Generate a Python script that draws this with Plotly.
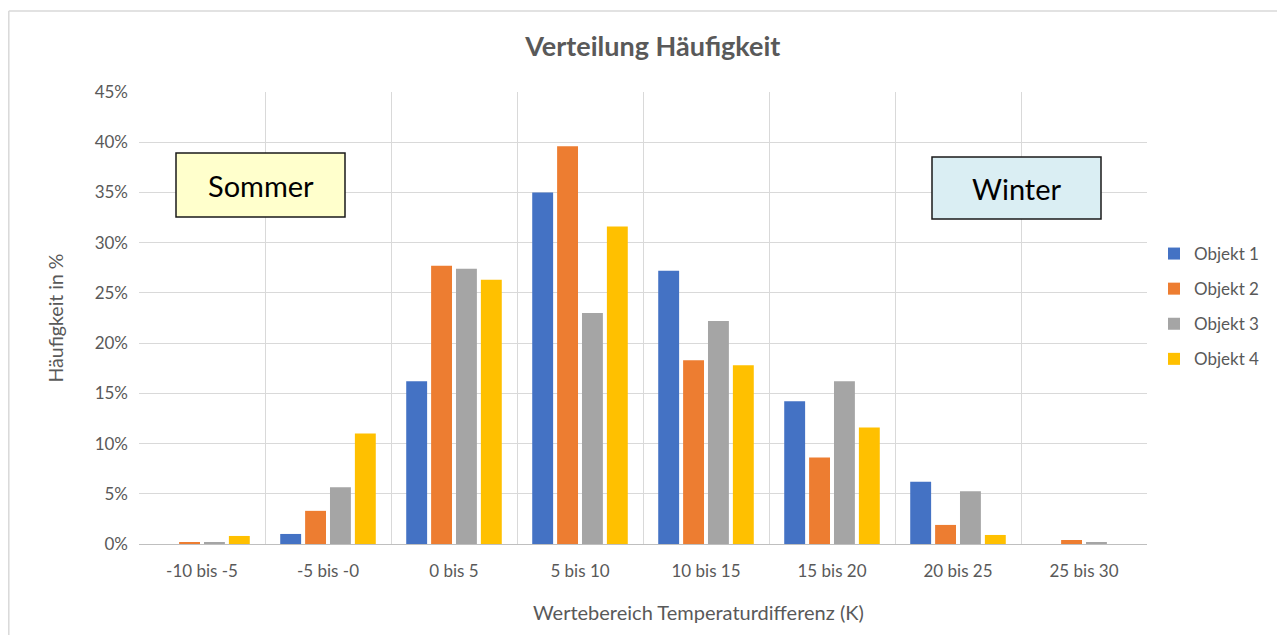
import plotly.graph_objects as go

categories = ["-10 bis -5", "-5 bis -0", "0 bis 5", "5 bis 10", "10 bis 15", "15 bis 20", "20 bis 25", "25 bis 30"]
objekt1 = [0.0, 1.0, 16.2, 35.0, 27.2, 14.2, 6.2, 0.0]
objekt2 = [0.2, 3.3, 27.7, 39.6, 18.3, 8.6, 1.9, 0.4]
objekt3 = [0.15, 5.65, 27.4, 23.0, 22.2, 16.2, 5.25, 0.2]
objekt4 = [0.8, 11.0, 26.3, 31.6, 17.8, 11.6, 0.9, 0.0]
series_names = ["Objekt 1", "Objekt 2", "Objekt 3", "Objekt 4"]
colors = ["#4472C4", "#ED7D31", "#A5A5A5", "#FFC000"]
y_ticks = [0, 5, 10, 15, 20, 25, 30, 35, 40, 45]

FONT = "Lato, Carlito, Calibri, sans-serif"
GRAY = "#595959"

fig = go.Figure()
for i, (name, vals) in enumerate(zip(series_names, [objekt1, objekt2, objekt3, objekt4])):
    fig.add_trace(go.Bar(
        x=categories, y=[v / 100 for v in vals], name=name,
        marker=dict(color=colors[i], line=dict(width=0)),
        legendgroup=name,
    ))

# page body has an 8px margin: figure coords = screen coords - 8
OFF = 8
W, H = 1285 - OFF, 635 - OFF
# plot area in screen coords
PX0, PX1, PY0, PY1 = 139, 1147, 92, 544
L, R, T, B = PX0 - OFF, W - (PX1 - OFF), PY0 - OFF, H - (PY1 - OFF)
pw, ph = PX1 - PX0, PY1 - PY0

def px_x(x):
    return (x - PX0) / pw

def px_y(y):
    return (PY1 - y) / ph

fig.update_layout(
    width=W, height=H,
    margin=dict(l=L, r=R, t=T, b=B),
    paper_bgcolor="white", plot_bgcolor="white",
    barmode="group", bargap=0.21, bargroupgap=0.16,
    font=dict(family=FONT, color=GRAY, size=17),
    title=dict(text="<b>Verteilung Häufigkeit</b>", x=px_x(648), xanchor="center",
               y=1 - (47 - OFF) / H, yanchor="middle",
               font=dict(family=FONT, size=27, color=GRAY)),
    xaxis=dict(
        type="category", tickson="boundaries", showgrid=True, gridcolor="#D9D9D9", gridwidth=1,
        showline=True, linecolor="#BFBFBF", linewidth=1, ticks="",
        tickfont=dict(size=17, color=GRAY), ticklabelstandoff=12,
    ),
    yaxis=dict(
        range=[0, 0.45], tickvals=[t / 100 for t in y_ticks], tickformat=".0%",
        showgrid=True, gridcolor="#D9D9D9", gridwidth=1, zeroline=False,
        showline=False, ticks="", ticklen=0,
        tickfont=dict(size=17, color=GRAY), ticklabelstandoff=10,
        title=dict(text="Häufigkeit in %", font=dict(size=19.5, color=GRAY), standoff=25),
    ),
    legend=dict(
        x=px_x(1154), xanchor="left", y=px_y(236), yanchor="top",
        font=dict(size=17, color=GRAY), tracegroupgap=10,
        bgcolor="rgba(0,0,0,0)", itemwidth=30,
    ),
    shapes=[
        dict(type="rect", xref="paper", yref="paper",
             x0=px_x(176), x1=px_x(345), y0=px_y(217), y1=px_y(153),
             fillcolor="#FFFFCC", line=dict(color="#1a1a1a", width=1.5), layer="above"),
        dict(type="rect", xref="paper", yref="paper",
             x0=px_x(932), x1=px_x(1101), y0=px_y(219), y1=px_y(157),
             fillcolor="#DAEEF3", line=dict(color="#1a1a1a", width=1.5), layer="above"),
        dict(type="line", xref="paper", yref="paper",
             x0=px_x(8.8), x1=px_x(1280), y0=px_y(11), y1=px_y(11), line=dict(color="#D9D9D9", width=1.5)),
        dict(type="line", xref="paper", yref="paper",
             x0=px_x(8.8), x1=px_x(8.8), y0=px_y(11), y1=px_y(640), line=dict(color="#D9D9D9", width=1.5)),
        dict(type="line", xref="paper", yref="paper",
             x0=px_x(1280), x1=px_x(1280), y0=px_y(11), y1=px_y(640), line=dict(color="#E8E8E8", width=1)),
    ],
    annotations=[
        dict(text="Sommer", xref="paper", yref="paper", x=px_x(260.5), y=px_y(185),
             showarrow=False, font=dict(family=FONT, size=29, color="black"),
             xanchor="center", yanchor="middle"),
        dict(text="Winter", xref="paper", yref="paper", x=px_x(1016.5), y=px_y(188),
             showarrow=False, font=dict(family=FONT, size=29, color="black"),
             xanchor="center", yanchor="middle"),
        dict(text="Wertebereich Temperaturdifferenz (K)", xref="paper", yref="paper",
             x=px_x(698), y=px_y(612), showarrow=False,
             font=dict(family=FONT, size=20, color=GRAY),
             xanchor="center", yanchor="middle"),
    ],
)

fig.write_html("out.html")
